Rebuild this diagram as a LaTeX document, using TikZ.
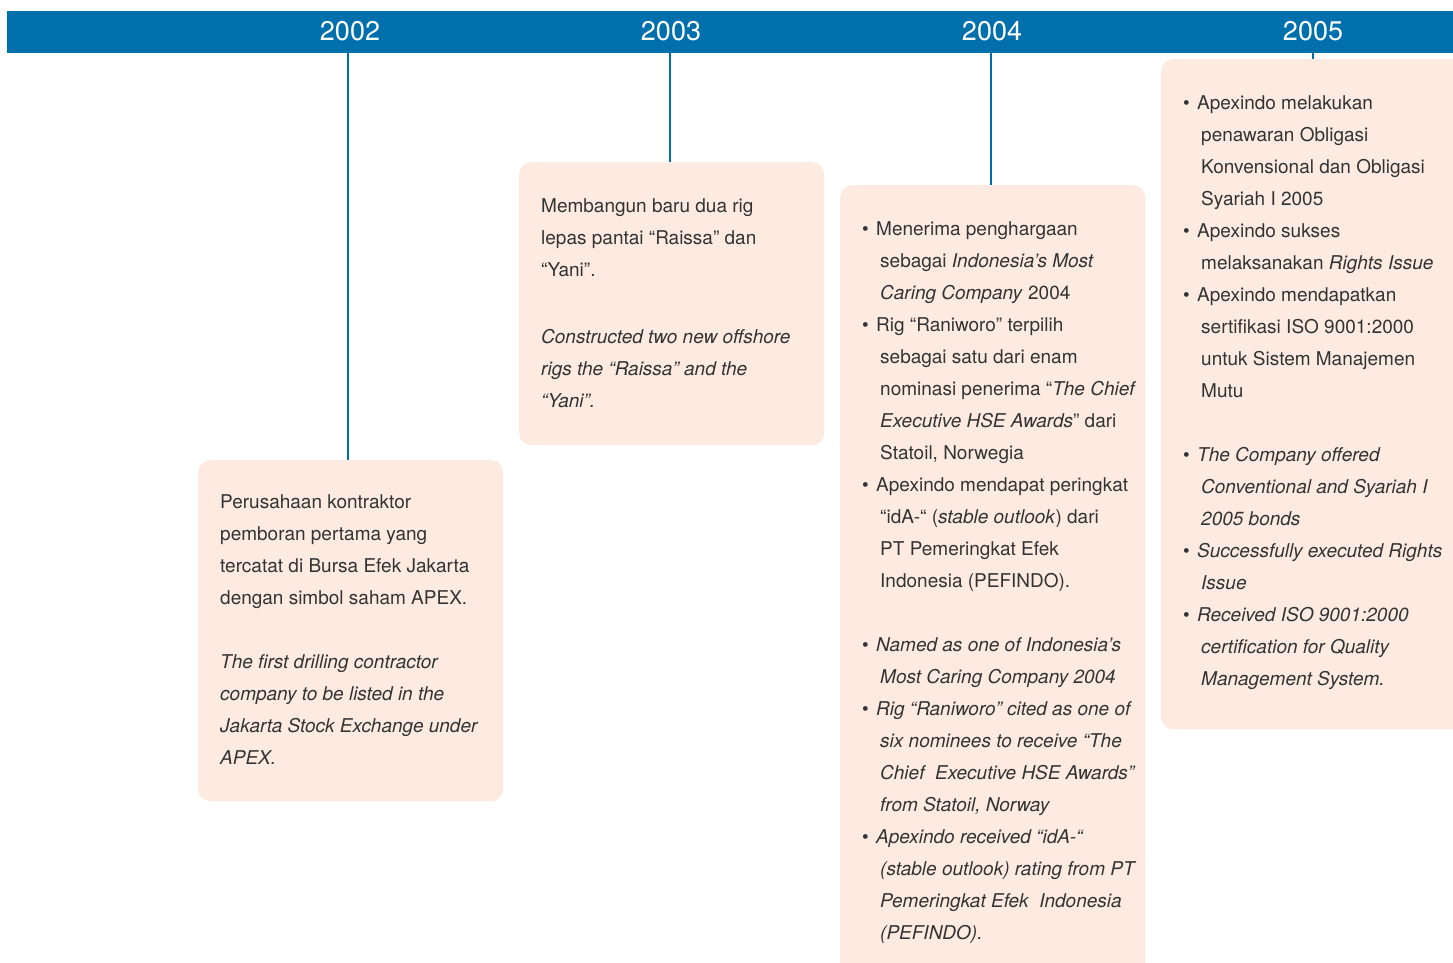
\documentclass[tikz,border=0pt]{standalone}
\usepackage{fontspec}
\setmainfont{TeX Gyre Heros}
\definecolor{barblue}{HTML}{0070AD}
\definecolor{boxfill}{HTML}{FDEBE1}
\definecolor{txtgray}{HTML}{333333}
\newcommand{\bl}{\makebox[14pt][l]{{\fontsize{19}{19}\selectfont\textbullet}}}
\newcommand{\cn}{\hspace*{18pt}}
\begin{document}
\begin{tikzpicture}[x=1pt,y=-1pt,
  yeartext/.style={anchor=base, inner sep=0, text=white, font=\fontsize{27}{27}\selectfont},
  evbox/.style={anchor=north west, fill=boxfill, draw=none, rounded corners=12pt, inner sep=0},
  evtext/.style={anchor=north west, inner sep=0, align=left, text=txtgray, font=\fontsize{19}{32}\selectfont},
  tick/.style={draw=barblue, line width=1.2pt}]
\useasboundingbox (0,0) rectangle (1453,963);
\clip (0,0) rectangle (1453,963);
\fill[white] (0,0) rectangle (1453,963);
\fill[barblue] (7,11) rectangle (1453,53);
\node[yeartext] (y2002) at (350,41) {2002};
\node[yeartext] (y2003) at (671,41) {2003};
\node[yeartext] (y2004) at (992,41) {2004};
\node[yeartext] (y2005) at (1313,41) {2005};
\coordinate (k2002) at (348,53);
\coordinate (k2003) at (670,53);
\coordinate (k2004) at (991,53);
\coordinate (k2005) at (1313,53);
\node[evbox, minimum width=305pt, minimum height=341pt] (b2002) at (198,460) {};
\node[evbox, minimum width=305pt, minimum height=283pt] (b2003) at (519,162) {};
\node[evbox, minimum width=305pt, minimum height=820pt] (b2004) at (840,185) {};
\node[evbox, minimum width=330pt, minimum height=670pt] (b2005) at (1161,59) {};
\draw[tick] (k2002) -- (k2002 |- b2002.north);
\draw[tick] (k2003) -- (k2003 |- b2003.north);
\draw[tick] (k2004) -- (k2004 |- b2004.north);
\draw[tick] (k2005) -- (k2005 |- b2005.north);
\node[evtext] (t2002) at (220,494.5) {Perusahaan kontraktor\\
pemboran pertama yang\\
tercatat di Bursa Efek Jakarta\\
dengan simbol saham APEX.\\[32pt]
\textit{The first drilling contractor}\\
\textit{company to be listed in the}\\
\textit{Jakarta Stock Exchange under}\\
\textit{APEX.}};
\node[evtext] (t2003) at (541,198.5) {Membangun baru dua rig\\
lepas pantai “Raissa” dan\\
“Yani”.\\[35pt]
\textit{Constructed two new offshore}\\
\textit{rigs the “Raissa” and the}\\
\textit{“Yani”.}};
\node[evtext] (t2004) at (862,221.5) {\bl Menerima penghargaan\\
\cn sebagai \textit{Indonesia’s Most}\\
\cn\textit{Caring Company} 2004\\
\bl Rig “Raniworo” terpilih\\
\cn sebagai satu dari enam\\
\cn nominasi penerima “\textit{The Chief}\\
\cn\textit{Executive HSE Awards}” dari\\
\cn Statoil, Norwegia\\
\bl Apexindo mendapat peringkat\\
\cn “idA-“ (\textit{stable outlook}) dari\\
\cn PT Pemeringkat Efek\\
\cn Indonesia (PEFINDO).\\[32pt]
\bl\textit{Named as one of Indonesia’s}\\
\cn\textit{Most Caring Company 2004}\\
\bl\textit{Rig “Raniworo” cited as one of}\\
\cn\textit{six nominees to receive “The}\\
\cn\textit{Chief\ \ Executive HSE Awards”}\\
\cn\textit{from Statoil, Norway}\\
\bl\textit{Apexindo received “idA-“}\\
\cn\textit{(stable outlook) rating from PT}\\
\cn\textit{Pemeringkat Efek\ \ Indonesia}\\
\cn\textit{(PEFINDO).}};
\node[evtext] (t2005) at (1183,95.5) {\bl Apexindo melakukan\\
\cn penawaran Obligasi\\
\cn Konvensional dan Obligasi\\
\cn Syariah I 2005\\
\bl Apexindo sukses\\
\cn melaksanakan \textit{Rights Issue}\\
\bl Apexindo mendapatkan\\
\cn sertifikasi ISO 9001:2000\\
\cn untuk Sistem Manajemen\\
\cn Mutu\\[32pt]
\bl\textit{The Company offered}\\
\cn\textit{Conventional and Syariah I}\\
\cn\textit{2005 bonds}\\
\bl\textit{Successfully executed Rights}\\
\cn\textit{Issue}\\
\bl\textit{Received ISO 9001:2000}\\
\cn\textit{certification for Quality}\\
\cn\textit{Management System.}};
\end{tikzpicture}
\end{document}
